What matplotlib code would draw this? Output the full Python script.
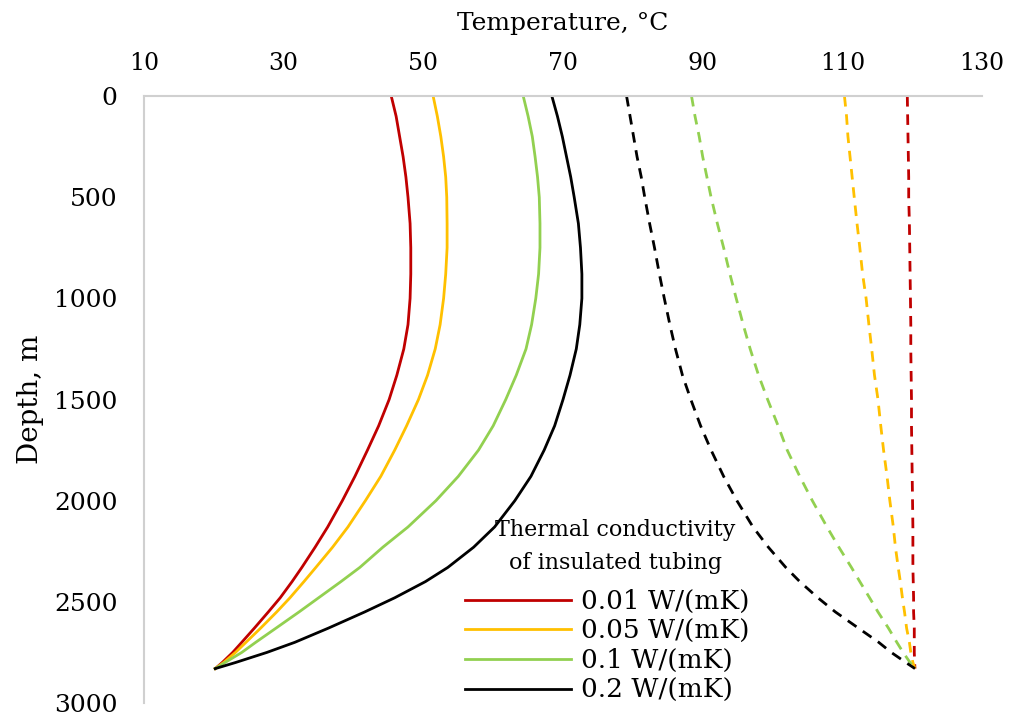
import matplotlib
matplotlib.use("Agg")
import matplotlib.pyplot as plt

# depth grid [m]
depth = [0, 100, 200, 300, 400, 500, 630, 750, 880, 1000, 1130, 1250, 1380, 1500, 1630,
         1750, 1880, 2000, 2130, 2230, 2330, 2400, 2480, 2550, 2630, 2700, 2750, 2800, 2830]

# fluid temperature in tubing (solid) [degC]
tubing_001 = [45.4, 46.1, 46.6, 47.1, 47.5, 47.8, 48.1, 48.2, 48.2, 48.1, 47.8, 47.2, 46.2, 45.1, 43.6,
              42.0, 40.2, 38.4, 36.3, 34.5, 32.6, 31.2, 29.5, 27.8, 25.8, 24.0, 22.7, 21.2, 20.2]
tubing_005 = [51.4, 52.0, 52.5, 52.9, 53.2, 53.35, 53.4, 53.4, 53.2, 52.9, 52.4, 51.7, 50.6, 49.3, 47.6,
              45.9, 43.9, 41.7, 39.2, 37.0, 34.6, 32.9, 30.9, 29.0, 26.7, 24.6, 23.1, 21.4, 20.2]
tubing_01 = [64.3, 65.0, 65.6, 66.0, 66.35, 66.6, 66.7, 66.7, 66.5, 66.1, 65.5, 64.7, 63.3, 61.8, 60.0,
             57.9, 55.0, 51.8, 47.8, 44.2, 40.9, 38.2, 35.0, 32.2, 28.9, 26.0, 24.0, 21.6, 20.2]
tubing_02 = [68.4, 69.2, 69.9, 70.5, 71.1, 71.6, 72.2, 72.5, 72.7, 72.7, 72.4, 71.9, 71.0, 70.0, 68.8,
             67.3, 65.4, 63.1, 60.2, 57.2, 53.5, 50.3, 45.9, 41.6, 36.4, 31.6, 27.6, 23.1, 20.2]

# fluid temperature in annulus (dashed) [degC]
annulus_001 = [119.3, 119.35, 119.4, 119.45, 119.5, 119.5, 119.6, 119.65, 119.7, 119.75, 119.8, 119.8, 119.85, 119.9, 119.9,
               119.95, 120.0, 120.05, 120.1, 120.1, 120.1, 120.15, 120.2, 120.2, 120.3, 120.3, 120.3, 120.35, 120.4]
annulus_005 = [110.3, 110.6, 110.8, 111.1, 111.4, 111.7, 112.1, 112.5, 112.9, 113.4, 113.8, 114.2, 114.6, 115.1, 115.5,
               115.9, 116.4, 116.8, 117.3, 117.6, 118.0, 118.3, 118.6, 118.9, 119.2, 119.6, 119.8, 120.1, 120.4]
annulus_01 = [88.4, 88.9, 89.5, 90.0, 90.6, 91.2, 92.1, 93.0, 93.9, 94.8, 95.8, 96.8, 98.0, 99.3, 100.8,
              102.1, 103.9, 105.7, 107.8, 109.5, 111.3, 112.5, 113.9, 115.1, 116.6, 117.8, 118.7, 119.7, 120.4]
annulus_02 = [79.1, 79.6, 80.1, 80.6, 81.2, 81.7, 82.4, 83.1, 83.8, 84.5, 85.3, 86.1, 87.1, 88.3, 89.7,
              91.2, 93.0, 94.9, 97.2, 99.4, 101.9, 103.9, 106.5, 109.0, 112.3, 115.2, 117.0, 119.1, 120.4]

labels = ["0.01 W/(mK)", "0.05 W/(mK)", "0.1 W/(mK)", "0.2 W/(mK)"]
colors = ["#C00000", "#FFC000", "#92D050", "#000000"]

xticks = [10, 30, 50, 70, 90, 110, 130]
yticks = [0, 500, 1000, 1500, 2000, 2500, 3000]


def main():
    plt.rcParams["font.family"] = ["DejaVu Serif"]
    fig = plt.figure(figsize=(10.1, 7.15), dpi=100)
    ax = fig.add_axes([0.1426, 0.0168, 0.8297, 0.8489])

    tubing = [tubing_001, tubing_005, tubing_01, tubing_02]
    annulus = [annulus_001, annulus_005, annulus_01, annulus_02]
    for t, a, c, lab in zip(tubing, annulus, colors, labels):
        ax.plot(t, depth, color=c, lw=2.0, label=lab, solid_joinstyle="round")
        ax.plot(a, depth, color=c, lw=2.0, dashes=(3.8, 2.8))

    ax.set_xlim(10, 130)
    ax.set_ylim(3000, 0)
    ax.set_xticks(xticks)
    ax.set_yticks(yticks)
    ax.xaxis.tick_top()
    ax.xaxis.set_label_position("top")
    ax.tick_params(length=0)
    ax.tick_params(axis="x", pad=15, labelsize=17)
    ax.tick_params(axis="y", pad=19, labelsize=18)
    ax.set_xlabel("Temperature, °C", fontsize=18, labelpad=16)
    ax.set_ylabel("Depth, m", fontsize=20, labelpad=7)
    for s in ["right", "bottom"]:
        ax.spines[s].set_visible(False)
    for s in ["top", "left"]:
        ax.spines[s].set_color("#d0d0d0")
        ax.spines[s].set_linewidth(1.5)

    # legend title written separately to get the wide line spacing
    fig.text(0.609, 0.2357, "Thermal conductivity\nof insulated tubing", fontsize=16,
             ha="center", va="center", multialignment="center", linespacing=1.6)
    ax.legend(frameon=False, loc="center left", bbox_to_anchor=(0.4475, 0.0965),
              bbox_transform=fig.transFigure, fontsize=19, borderpad=0,
              handlelength=4.0, handletextpad=0.4, labelspacing=0.18)
    fig.savefig("out.png", dpi=100)


if __name__ == "__main__":
    main()
